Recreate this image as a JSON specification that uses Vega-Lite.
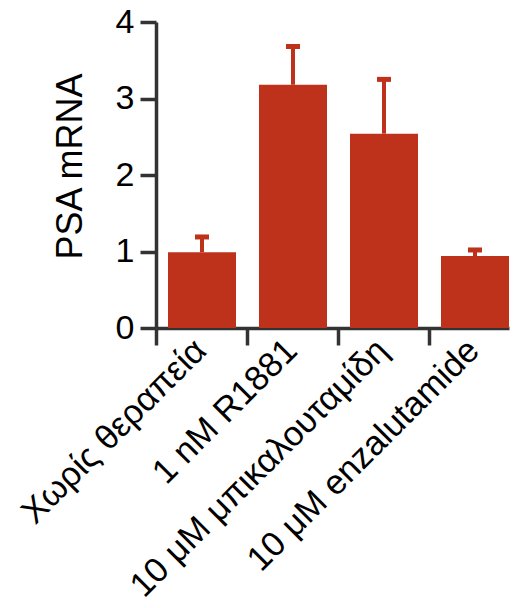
{
  "$schema": "https://vega.github.io/schema/vega-lite/v6.json",
  "autosize": {"type": "none"},
  "padding": {"left": 156, "top": 22, "right": 6, "bottom": 280},
  "width": 353,
  "height": 306,
  "background": "white",
  "config": {
    "view": {"stroke": null},
    "font": "Liberation Sans",
    "axis": {"grid": false, "domainColor": "#333333", "tickColor": "#333333", "labelColor": "#000000", "titleColor": "#000000", "labelFont": "Liberation Sans", "titleFont": "Liberation Sans", "domainWidth": 3.5, "tickWidth": 3.5, "labelLimit": 0}
  },
  "data": {
    "values": [
      {"group": "Χωρίς θεραπεία", "mean": 0.99, "upper": 1.19},
      {"group": "1 nM R1881", "mean": 3.18, "upper": 3.68},
      {"group": "10 μM μπικαλουταμίδη", "mean": 2.54, "upper": 3.25},
      {"group": "10 μM enzalutamide", "mean": 0.94, "upper": 1.02}
    ]
  },
  "encoding": {
    "x": {
      "field": "group", "type": "nominal", "sort": null,
      "scale": {"paddingInner": 0.2527, "paddingOuter": 0.0659, "align": 1},
      "axis": {
        "title": null, "labelAngle": -45, "labelAlign": "right", "labelBaseline": "middle",
        "labelFontSize": 34.5, "labelPadding": 0, "tickSize": 17, "labelLimit": 0,
        "tickOffset": -45.5, "labelOffset": 44
      }
    }
  },
  "layer": [
    {
      "mark": {"type": "bar", "color": "#be311b"},
      "encoding": {
        "y": {
          "field": "mean", "type": "quantitative",
          "scale": {"domain": [0, 4], "nice": false},
          "axis": {
            "title": "PSA mRNA", "values": [0, 1, 2, 3, 4], "format": "d",
            "labelFontSize": 34, "labelPadding": 6, "tickSize": 16,
            "titleFontSize": 36, "titleFontWeight": "normal",
            "titleBaseline": "alphabetic", "titleX": -75, "titleY": 144
          }
        }
      }
    },
    {
      "mark": {"type": "rule", "color": "#be311b", "strokeWidth": 4},
      "encoding": {
        "y": {"field": "mean", "type": "quantitative"},
        "y2": {"field": "upper"}
      }
    },
    {
      "mark": {"type": "tick", "color": "#be311b", "size": 14, "thickness": 5, "orient": "horizontal", "opacity": 1},
      "encoding": {
        "y": {"field": "upper", "type": "quantitative"}
      }
    }
  ]
}
